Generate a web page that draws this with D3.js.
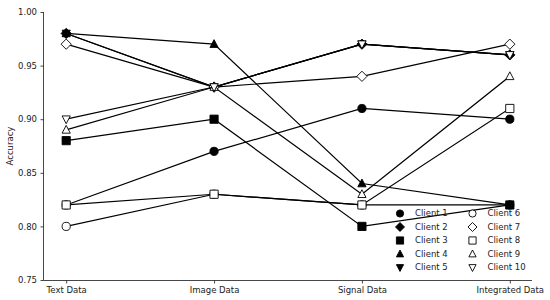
<!DOCTYPE html>
<html>
<head>
<meta charset="utf-8">
<script src="https://cdn.jsdelivr.net/npm/d3@7"></script>
<style>
  body { margin: 0; background: #fff; }
  text { font-family: "DejaVu Sans", sans-serif; }
</style>
</head>
<body>
<svg id="plot" width="550" height="300"></svg>
<script>
// categories on the x axis
const categories = ["Text Data", "Image Data", "Signal Data", "Integrated Data"];
// accuracy per client, same order as categories
const client1 = [0.82, 0.87, 0.91, 0.90];
const client2 = [0.98, 0.93, 0.97, 0.96];
const client3 = [0.88, 0.90, 0.80, 0.82];
const client4 = [0.98, 0.97, 0.84, 0.82];
const client5 = [0.98, 0.93, 0.97, 0.96];
const client6 = [0.80, 0.83, 0.82, 0.82];
const client7 = [0.97, 0.93, 0.94, 0.97];
const client8 = [0.82, 0.83, 0.82, 0.91];
const client9 = [0.89, 0.93, 0.83, 0.94];
const client10 = [0.90, 0.93, 0.97, 0.96];
const yTicks = [0.75, 0.80, 0.85, 0.90, 0.95, 1.00];

const series = [
	{name: "Client 1", values: client1, shape: "circle", filled: true},
	{name: "Client 2", values: client2, shape: "diamond", filled: true},
	{name: "Client 3", values: client3, shape: "square", filled: true},
	{name: "Client 4", values: client4, shape: "up", filled: true},
	{name: "Client 5", values: client5, shape: "down", filled: true},
	{name: "Client 6", values: client6, shape: "circle", filled: false},
	{name: "Client 7", values: client7, shape: "diamond", filled: false},
	{name: "Client 8", values: client8, shape: "square", filled: false},
	{name: "Client 9", values: client9, shape: "up", filled: false},
	{name: "Client 10", values: client10, shape: "down", filled: false}
];

const FONT = "8.5px";
const svg = d3.select("#plot");
const x = d3.scalePoint().domain(categories).range([44, 532]).padding(0.15);
const y = d3.scaleLinear().domain([0.75, 1.0]).range([280, 12]);

// marker outlines, s = half size
function markerPath(shape, s) {
	if (shape === "circle") {
		return `M${s},0A${s},${s} 0 1,1 ${-s},0A${s},${s} 0 1,1 ${s},0Z`;
	}
	if (shape === "square") {
		return `M${-s},${-s}H${s}V${s}H${-s}Z`;
	}
	if (shape === "diamond") {
		const d = s * 1.25;
		return `M0,${-d}L${d},0L0,${d}L${-d},0Z`;
	}
	if (shape === "up") {
		return `M0,${-s * 1.1}L${s},${s * 0.8}L${-s},${s * 0.8}Z`;
	}
	return `M0,${s * 1.1}L${s},${-s * 0.8}L${-s},${-s * 0.8}Z`;
}

// axes
const yAxis = svg.append("g")
	.attr("transform", "translate(44,0)")
	.call(d3.axisLeft(y).tickValues(yTicks).tickFormat(d3.format(".2f")).tickSize(3.5).tickPadding(3.5));
const xAxis = svg.append("g")
	.attr("transform", "translate(0,280)")
	.call(d3.axisBottom(x).tickSize(3.5).tickPadding(3));
[yAxis, xAxis].forEach(a => {
	a.select(".domain").attr("stroke", "#333").attr("stroke-width", 0.9);
	a.selectAll(".tick line").attr("stroke", "#333").attr("stroke-width", 0.9);
	a.selectAll("text").attr("fill", "#222").style("font-size", FONT);
});
xAxis.select(".domain").attr("d", "M44,0.5H532");
yAxis.select(".domain").attr("d", "M-0.5,12V280");

svg.append("text")
	.attr("transform", "translate(13,146) rotate(-90)")
	.attr("text-anchor", "middle")
	.style("font-size", FONT)
	.attr("fill", "#222")
	.text("Accuracy");

const line = d3.line()
	.x((d, i) => x(categories[i]))
	.y(d => y(d));

// client 3 is painted last: its square sits on top at the right end
const drawOrder = series.filter(s => s.name !== "Client 3").concat(series.filter(s => s.name === "Client 3"));

drawOrder.forEach(s => {
	const g = svg.append("g");
	g.append("path")
		.attr("d", line(s.values))
		.attr("fill", "none")
		.attr("stroke", "#000")
		.attr("stroke-width", 1.2);
	g.selectAll("path.m").data(s.values).enter().append("path")
		.attr("class", "m")
		.attr("transform", (d, i) => `translate(${x(categories[i])},${y(d)})`)
		.attr("d", markerPath(s.shape, 4.1))
		.attr("fill", s.filled ? "#000" : "#fff")
		.attr("stroke", "#000")
		.attr("stroke-width", 0.9);
});

// legend, two columns of five
const legend = svg.append("g");
const items = legend.selectAll("g").data(series).enter().append("g")
	.attr("transform", (d, i) => `translate(${i < 5 ? 400 : 472.5},${213.5 + (i % 5) * 13.5})`);
items.append("path")
	.attr("d", d => markerPath(d.shape, 3.6))
	.attr("fill", d => d.filled ? "#000" : "#fff")
	.attr("stroke", "#000")
	.attr("stroke-width", 0.9);
items.append("text")
	.attr("x", 15)
	.attr("dy", "0.35em")
	.style("font-size", FONT)
	.attr("fill", "#222")
	.text(d => d.name);
</script>
</body>
</html>
